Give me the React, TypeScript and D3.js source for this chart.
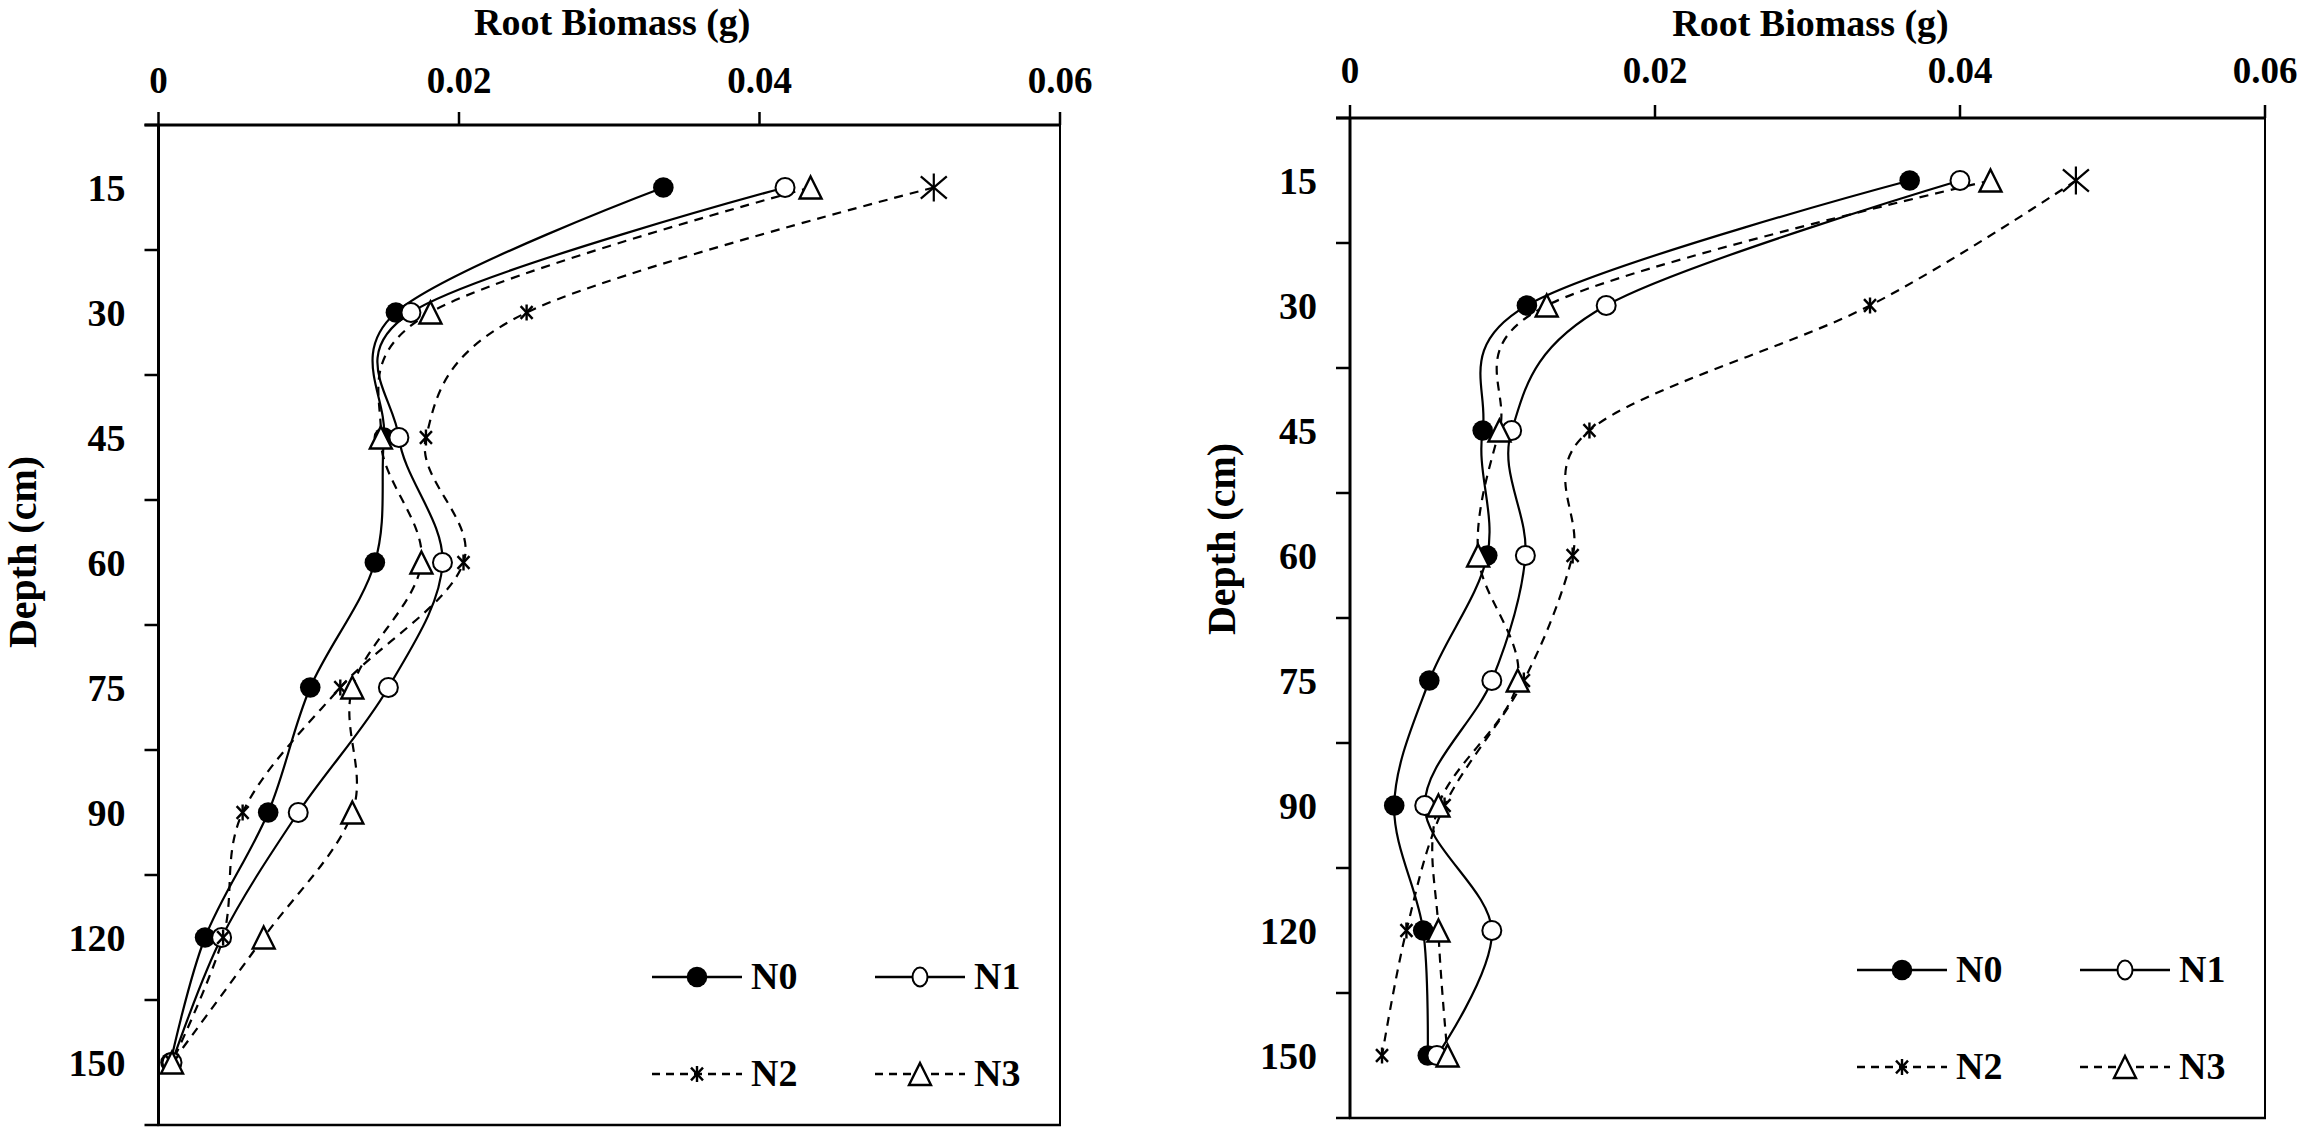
import React from "react";
import * as d3 from "d3";

const DEPTHS = ["15", "30", "45", "60", "75", "90", "120", "150"];
const X_TICKS = [0, 0.02, 0.04, 0.06];
const SERIES = ["N0", "N1", "N2", "N3"];

// Left panel values (g)
const L_N0 = [0.0336, 0.0158, 0.0150, 0.0144, 0.0101, 0.0073, 0.0031, 0.0008];
const L_N1 = [0.0417, 0.0168, 0.0160, 0.0189, 0.0153, 0.0093, 0.0042, 0.0009];
const L_N2 = [0.0516, 0.0245, 0.0178, 0.0203, 0.0121, 0.0056, 0.0043, 0.0009];
const L_N3 = [0.0434, 0.0181, 0.0148, 0.0175, 0.0129, 0.0129, 0.0070, 0.0009];

// Right panel values (g)
const R_N0 = [0.0367, 0.0116, 0.0087, 0.0090, 0.0052, 0.0029, 0.0048, 0.0051];
const R_N1 = [0.0400, 0.0168, 0.0106, 0.0115, 0.0093, 0.0049, 0.0093, 0.0057];
const R_N2 = [0.0476, 0.0341, 0.0157, 0.0146, 0.0114, 0.0062, 0.0037, 0.0021];
const R_N3 = [0.0420, 0.0129, 0.0098, 0.0084, 0.0110, 0.0058, 0.0058, 0.0064];

const FONT = "'Liberation Serif', 'Times New Roman', serif";

type Panel = {
  x0: number; x1: number; top: number; bottom: number;
  series: number[][];
  titleY: number; tickY: number; depthX: number; depthY: number;
};

const PANELS: Panel[] = [
  { x0: 158.5, x1: 1060, top: 125, bottom: 1125, series: [L_N0, L_N1, L_N2, L_N3], titleY: 35, tickY: 93, depthX: 36, depthY: 552 },
  { x0: 1350, x1: 2265, top: 118, bottom: 1118, series: [R_N0, R_N1, R_N2, R_N3], titleY: 36, tickY: 83, depthX: 1235, depthY: 539 },
];

function Marker({ kind, x, y, big, legend }: { kind: number; x: number; y: number; big?: boolean; legend?: boolean }) {
  if (kind === 0) return <circle cx={x} cy={y} r={10.3} fill="#000" />;
  if (kind === 1)
    return legend ? (
      <ellipse cx={x} cy={y} rx={7.5} ry={9.5} fill="#fff" stroke="#000" strokeWidth={2} />
    ) : (
      <circle cx={x} cy={y} r={9.5} fill="#fff" stroke="#000" strokeWidth={2} />
    );
  if (kind === 2) {
    const w = big ? 13 : 6;
    const h = big ? 14 : 8;
    return (
      <g stroke="#000" strokeWidth={big ? 2.2 : 2.4} fill="none">
        <line x1={x} y1={y - h} x2={x} y2={y + h} />
        <line x1={x - w} y1={y - h * 0.8} x2={x + w} y2={y + h * 0.8} />
        <line x1={x - w} y1={y + h * 0.8} x2={x + w} y2={y - h * 0.8} />
      </g>
    );
  }
  const s = 11;
  return (
    <path
      d={`M${x},${y - s}L${x + s},${y + s}L${x - s},${y + s}Z`}
      fill="#fff"
      stroke="#000"
      strokeWidth={2.4}
      strokeLinejoin="miter"
    />
  );
}

function PanelView({ p }: { p: Panel }) {
  const x = d3.scaleLinear().domain([0, 0.06]).range([p.x0, p.x1]);
  const y = d3.scaleBand<string>().domain(DEPTHS).range([p.top, p.bottom]).padding(0);
  const cy = (d: string) => (y(d) as number) + y.bandwidth() / 2;
  const line = d3
    .line<number>()
    .x((v) => x(v))
    .y((_, i) => cy(DEPTHS[i]))
    .curve(d3.curveCardinal.tension(0));
  const boundaries = d3.range(DEPTHS.length + 1).map((i) => p.top + i * y.bandwidth());
  const legX = p.x1 - 408;
  const legX2 = p.x1 - 185;
  const legY1 = p.bottom - 148;
  const legY2 = p.bottom - 51;
  const legPos = [
    [legX, legY1],
    [legX2, legY1],
    [legX, legY2],
    [legX2, legY2],
  ];
  const dash = "9,7";
  return (
    <g>
      {/* title */}
      <text x={(p.x0 + p.x1) / 2 + 3} y={p.titleY} textAnchor="middle" fontFamily={FONT} fontWeight="bold" fontSize={38}>
        Root Biomass (g)
      </text>
      {/* top axis ticks + labels */}
      {X_TICKS.map((t) => (
        <g key={t}>
          <line x1={x(t)} x2={x(t)} y1={p.top - 13} y2={p.top} stroke="#000" strokeWidth={2.5} />
          <text x={x(t)} y={p.tickY} textAnchor="middle" fontFamily={FONT} fontWeight="bold" fontSize={37}>
            {t === 0 ? "0" : String(t)}
          </text>
        </g>
      ))}
      {/* y ticks */}
      {boundaries.map((b, i) => (
        <line key={i} x1={p.x0 - 14} x2={p.x0} y1={b} y2={b} stroke="#000" strokeWidth={2.5} />
      ))}
      {DEPTHS.map((d) => (
        <text key={d} x={p.x0 - 33} y={cy(d) + 13.5} textAnchor="end" fontFamily={FONT} fontWeight="bold" fontSize={38}>
          {d}
        </text>
      ))}
      <text
        transform={`translate(${p.depthX},${p.depthY}) rotate(-90)`}
        textAnchor="middle"
        fontFamily={FONT}
        fontWeight="bold"
        fontSize={40}
      >
        Depth (cm)
      </text>
      {/* frame */}
      <line x1={p.x0 - 14} x2={p.x1 + 1} y1={p.top} y2={p.top} stroke="#000" strokeWidth={3} />
      <line x1={p.x0} x2={p.x0} y1={p.top} y2={p.bottom + 1} stroke="#000" strokeWidth={3} />
      <line x1={p.x1} x2={p.x1} y1={p.top} y2={p.bottom} stroke="#000" strokeWidth={2} />
      <line x1={p.x0 - 1} x2={p.x1 + 1} y1={p.bottom} y2={p.bottom} stroke="#000" strokeWidth={2.5} />
      {/* series lines */}
      {p.series.map((vals, si) => (
        <path
          key={si}
          d={line(vals) || ""}
          fill="none"
          stroke="#000"
          strokeWidth={2.2}
          strokeDasharray={si >= 2 ? dash : undefined}
        />
      ))}
      {/* markers */}
      {p.series.map((vals, si) =>
        vals.map((v, i) => <Marker key={`${si}-${i}`} kind={si} x={x(v)} y={cy(DEPTHS[i])} big={si === 2 && i === 0} />)
      )}
      {/* legend */}
      {SERIES.map((name, si) => {
        const [lx, ly] = legPos[si];
        return (
          <g key={name}>
            <line
              x1={lx}
              x2={lx + 90}
              y1={ly}
              y2={ly}
              stroke="#000"
              strokeWidth={2.5}
              strokeDasharray={si >= 2 ? "8,6" : undefined}
            />
            <Marker kind={si} x={lx + 45} y={ly} legend />
            <text x={lx + 99} y={ly + 12} fontFamily={FONT} fontWeight="bold" fontSize={38}>
              {name}
            </text>
          </g>
        );
      })}
    </g>
  );
}

export default function App() {
  return (
    <svg
      width={2305}
      height={1133}
      viewBox="0 0 2305 1133"
      style={{ position: "absolute", left: 0, top: 0, background: "#fff" }}
    >
      <rect x={0} y={0} width={2305} height={1133} fill="#fff" />
      {PANELS.map((p, i) => (
        <PanelView key={i} p={p} />
      ))}
    </svg>
  );
}
